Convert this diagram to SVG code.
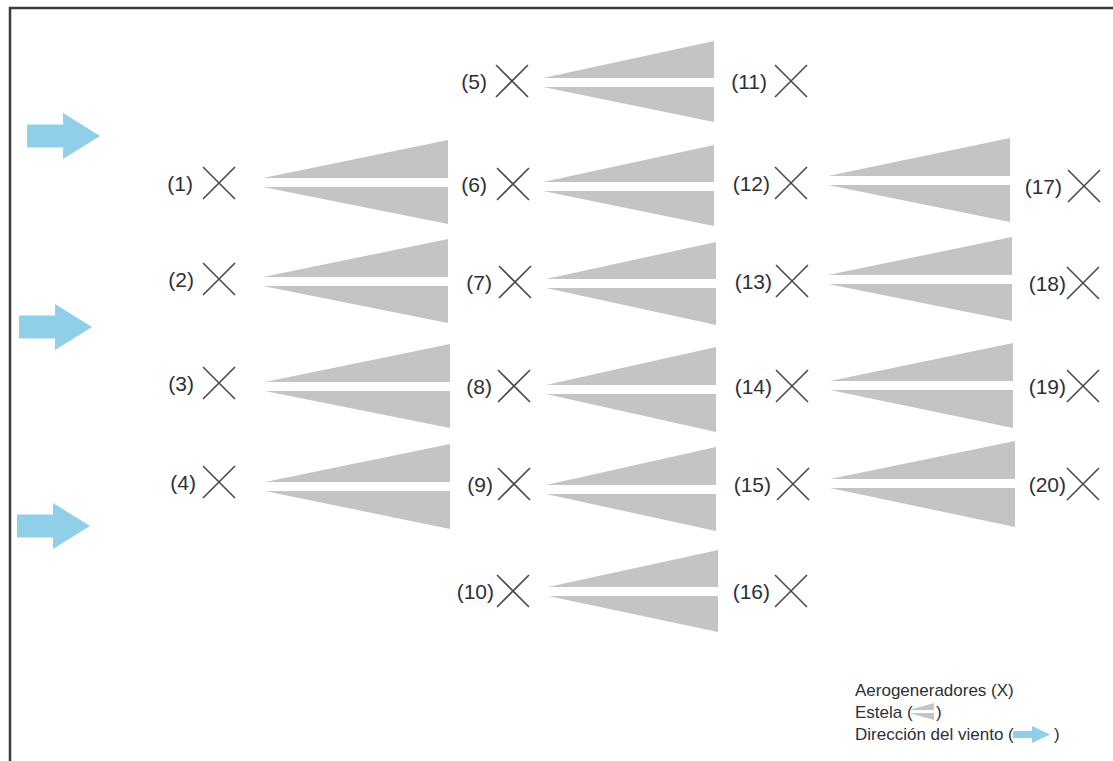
<svg xmlns="http://www.w3.org/2000/svg" xmlns:xlink="http://www.w3.org/1999/xlink" width="1113" height="761" viewBox="0 0 1113 761">
<style>
.lbl{font-family:"Liberation Sans",Arial,sans-serif;font-size:21px;fill:#2e3038;text-anchor:end}
.leg{font-family:"Liberation Sans",Arial,sans-serif;font-size:17px;fill:#2e3038}
.wake{fill:#c4c4c4}
.wind{fill:#8fd0e8}
.xm{stroke:#4a4a4a;stroke-width:1.6;fill:none}
</style>
<defs>
<path id="xmark" class="xm" d="M-16,-16 L16,16 M16,-16 L-16,16"/>
<path id="arrow" class="wind" d="M0,-11.5 H36 V-23 L73,0 L36,23 V11.5 H0 Z"/>
</defs>
<rect x="0" y="0" width="1113" height="761" fill="#ffffff"/>
<rect x="10" y="8" width="1120" height="770" fill="none" stroke="#3c3c3c" stroke-width="2.5"/>
<g id="wind">
<use xlink:href="#arrow" href="#arrow" x="27" y="136"/>
<use xlink:href="#arrow" href="#arrow" x="19" y="327"/>
<use xlink:href="#arrow" href="#arrow" x="17" y="526"/>
</g>
<g id="wakes">
<path class="wake" d="M263,178 L448,140 L448,178 Z M263,187 L448,187 L448,224 Z"/>
<path class="wake" d="M263,277 L448,239 L448,277 Z M263,286 L448,286 L448,323 Z"/>
<path class="wake" d="M265,382 L450,344 L450,382 Z M265,391 L450,391 L450,428 Z"/>
<path class="wake" d="M265,482 L450,444 L450,482 Z M265,491 L450,491 L450,529 Z"/>
<path class="wake" d="M543,78 L714,41 L714,78 Z M543,87 L714,87 L714,122 Z"/>
<path class="wake" d="M543,182 L714,145 L714,182 Z M543,191 L714,191 L714,226 Z"/>
<path class="wake" d="M546,279 L716,242 L716,279 Z M546,288 L716,288 L716,325 Z"/>
<path class="wake" d="M546,385 L716,347 L716,385 Z M546,394 L716,394 L716,432 Z"/>
<path class="wake" d="M546,485 L716,447 L716,485 Z M546,494 L716,494 L716,531 Z"/>
<path class="wake" d="M548,587 L718,550 L718,587 Z M548,596 L718,596 L718,632 Z"/>
<path class="wake" d="M828,176 L1010,138 L1010,176 Z M828,185 L1010,185 L1010,222 Z"/>
<path class="wake" d="M828,275 L1012,237 L1012,275 Z M828,284 L1012,284 L1012,321 Z"/>
<path class="wake" d="M830,381 L1013,343 L1013,381 Z M830,390 L1013,390 L1013,428 Z"/>
<path class="wake" d="M830,479 L1015,441 L1015,479 Z M830,488 L1015,488 L1015,527 Z"/>
</g>
<g id="t1"><text class="lbl" x="193" y="191">(1)</text><use xlink:href="#xmark" href="#xmark" x="219" y="183"/></g>
<g id="t2"><text class="lbl" x="194" y="287">(2)</text><use xlink:href="#xmark" href="#xmark" x="219" y="279"/></g>
<g id="t3"><text class="lbl" x="194" y="391">(3)</text><use xlink:href="#xmark" href="#xmark" x="219" y="383"/></g>
<g id="t4"><text class="lbl" x="196" y="490">(4)</text><use xlink:href="#xmark" href="#xmark" x="219" y="482"/></g>
<g id="t5"><text class="lbl" x="487" y="89">(5)</text><use xlink:href="#xmark" href="#xmark" x="512" y="81"/></g>
<g id="t6"><text class="lbl" x="487" y="192">(6)</text><use xlink:href="#xmark" href="#xmark" x="513" y="184"/></g>
<g id="t7"><text class="lbl" x="492" y="290">(7)</text><use xlink:href="#xmark" href="#xmark" x="515" y="282"/></g>
<g id="t8"><text class="lbl" x="492" y="394">(8)</text><use xlink:href="#xmark" href="#xmark" x="514" y="386"/></g>
<g id="t9"><text class="lbl" x="493" y="492">(9)</text><use xlink:href="#xmark" href="#xmark" x="514" y="484"/></g>
<g id="t10"><text class="lbl" x="494" y="599">(10)</text><use xlink:href="#xmark" href="#xmark" x="513" y="591"/></g>
<g id="t11"><text class="lbl" x="767" y="89">(11)</text><use xlink:href="#xmark" href="#xmark" x="791" y="81"/></g>
<g id="t12"><text class="lbl" x="770" y="191">(12)</text><use xlink:href="#xmark" href="#xmark" x="791" y="183"/></g>
<g id="t13"><text class="lbl" x="772" y="289">(13)</text><use xlink:href="#xmark" href="#xmark" x="792" y="281"/></g>
<g id="t14"><text class="lbl" x="772" y="394">(14)</text><use xlink:href="#xmark" href="#xmark" x="792" y="386"/></g>
<g id="t15"><text class="lbl" x="771" y="492">(15)</text><use xlink:href="#xmark" href="#xmark" x="793" y="484"/></g>
<g id="t16"><text class="lbl" x="770" y="599">(16)</text><use xlink:href="#xmark" href="#xmark" x="791" y="591"/></g>
<g id="t17"><text class="lbl" x="1062" y="194">(17)</text><use xlink:href="#xmark" href="#xmark" x="1084" y="186"/></g>
<g id="t18"><text class="lbl" x="1066" y="291">(18)</text><use xlink:href="#xmark" href="#xmark" x="1083" y="283"/></g>
<g id="t19"><text class="lbl" x="1066" y="394">(19)</text><use xlink:href="#xmark" href="#xmark" x="1083" y="386"/></g>
<g id="t20"><text class="lbl" x="1066" y="492">(20)</text><use xlink:href="#xmark" href="#xmark" x="1083" y="484"/></g>
<g id="legend">
<text class="leg" x="855" y="696">Aerogeneradores (X)</text>
<text class="leg" x="855" y="718">Estela (</text>
<path class="wake" d="M909,710 L934,703 L934,710 Z M909,713 L934,713 L934,720 Z"/>
<text class="leg" x="936" y="718">)</text>
<text class="leg" x="855" y="740">Dirección del viento (</text>
<path class="wind" d="M1013,731 H1032 V726 L1050,734.5 L1032,743 V738 H1013 Z"/>
<text class="leg" x="1054" y="740">)</text>
</g>
</svg>
